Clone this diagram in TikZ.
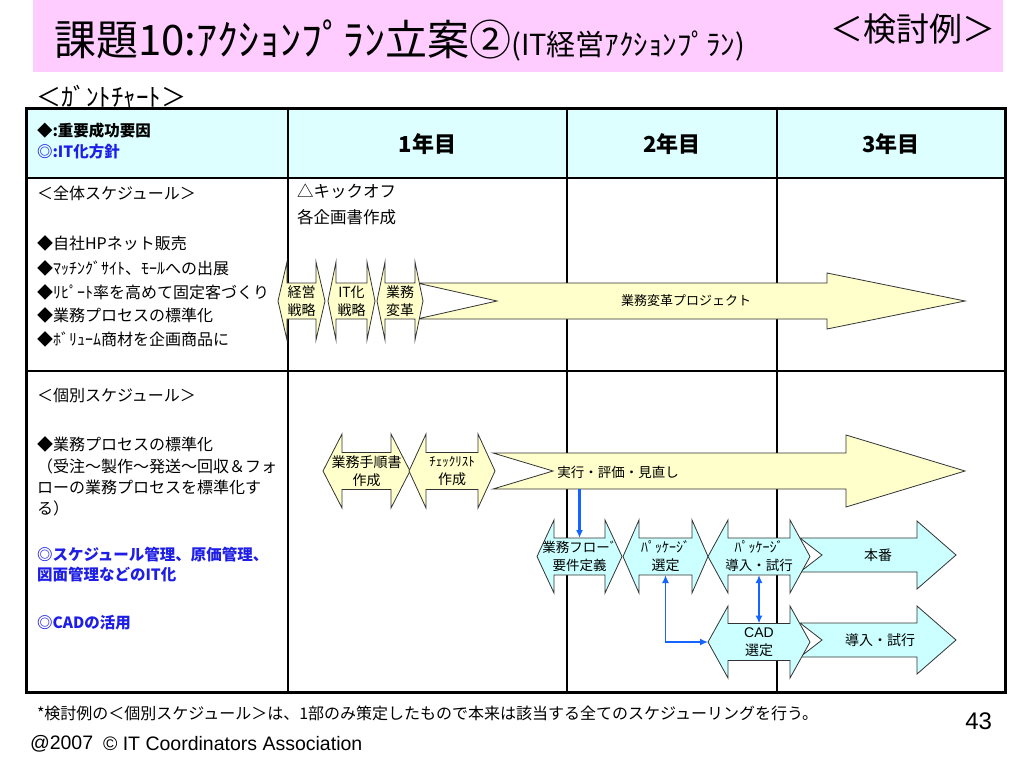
\documentclass[tikz,border=0pt]{standalone}
\usepackage{fontspec}
\usepackage{graphicx}
\setmainfont{Noto Sans CJK JP}
\newfontfamily\arialf{Liberation Sans}
\usetikzlibrary{arrows.meta}
\definecolor{pinkband}{HTML}{FFCCFF}
\definecolor{hdrcyan}{HTML}{DDFFFF}
\definecolor{arrcyan}{HTML}{CCFFFF}
\definecolor{arryel}{HTML}{FFFFCC}
\definecolor{txtblue}{HTML}{1E1EE6}
\definecolor{linkblue}{HTML}{1464FF}
\definecolor{edgegray}{HTML}{333333}
\newcommand\fsz[2]{\fontsize{#1}{#2}\selectfont}
% double (left-right) arrow: name, xleft, xright, cy, headlen, headhalf, bodyhalf, fill, text
\newcommand\dblarr[9]{%
  \filldraw[shp, fill=#8] (#2,#4) -- ({#2+#5},{#4-#6}) -- ({#2+#5},{#4-#7}) -- ({#3-#5},{#4-#7}) -- ({#3-#5},{#4-#6}) -- (#3,#4) -- ({#3-#5},{#4+#6}) -- ({#3-#5},{#4+#7}) -- ({#2+#5},{#4+#7}) -- ({#2+#5},{#4+#6}) -- cycle;
  \node[arrowlbl, minimum width={(#3-#2)*1pt}, minimum height={2*#7*1pt}] (#1) at ({(#2+#3)/2},#4) {#9};
}
% notched single arrow: name, xtail, xnotch, xbase, xtip, cy, bodyhalf, headhalf, fill
\newcommand\notcharr[9]{%
  \filldraw[shp, fill=#9] (#2,{#6-#7}) -- (#4,{#6-#7}) -- (#4,{#6-#8}) -- (#5,#6) -- (#4,{#6+#8}) -- (#4,{#6+#7}) -- (#2,{#6+#7}) -- (#3,#6) -- cycle;
  \node[minimum width={(#5-#2)*1pt}, minimum height={2*#7*1pt}] (#1) at ({(#2+#5)/2},#6) {};
}
\begin{document}
\begin{tikzpicture}[x=1pt,y=-1pt,
  every node/.style={inner sep=0pt, outer sep=0pt},
  lbl/.style={anchor=west, font=\fsz{16}{16}},
  bluelbl/.style={anchor=west, font=\fsz{15.5}{15.5}\bfseries, text=txtblue},
  hdr/.style={font=\fsz{22}{22}\bfseries},
  arrowlbl/.style={align=center, font=\fsz{14}{18}},
  shp/.style={draw=edgegray, line width=0.8pt},
  tipb/.tip={Latex[length=8pt,width=7pt]},
  link/.style={draw=linkblue, line width=1.6pt},
]
\fill[white] (0,0) rectangle (1024,768);
\useasboundingbox (0,0) rectangle (1024,768);
% title band
\fill[pinkband] (33,0) rectangle (1003,72);
\node[anchor=base west] (title) at (54,56) {\fsz{42}{42}課題10:ｱｸｼｮﾝﾌﾟﾗﾝ立案②\fsz{29}{29}(IT経営ｱｸｼｮﾝﾌﾟﾗﾝ)};
\node[anchor=east] (example) at (995,29) {\fsz{33}{33}＜検討例＞};
\node[anchor=west] (gantt) at (36,96) {\fsz{25}{25}＜ｶﾞﾝﾄﾁｬｰﾄ＞};
% table
\fill[hdrcyan] (26,108) rectangle (1005,178);
\draw[line width=1.3pt] (288,108) -- (288,692);
\draw[line width=1.3pt] (567,108) -- (567,692);
\draw[line width=1.3pt] (777,108) -- (777,692);
\draw[line width=2pt] (26,178) -- (1005,178);
\draw[line width=2pt] (26,371) -- (1005,371);
\draw[line width=3pt] (26,108) rectangle (1005,692);
% header row
\node[anchor=west, font=\fsz{15.5}{15.5}\bfseries] (key1) at (37,131) {◆:重要成功要因};
\node[anchor=west, font=\fsz{15.5}{15.5}\bfseries, text=txtblue] (key2) at (37,152) {◎:IT化方針};
\node[hdr] (y1) at (427.5,144) {1年目};
\node[hdr] (y2) at (672,144) {2年目};
\node[hdr] (y3) at (891,144) {3年目};
% row 2 left
\node[lbl] (all) at (37,193) {＜全体スケジュール＞};
\node[lbl] (k1) at (37,243) {◆自社HPネット販売};
\node[lbl] (k2) at (37,268) {◆ﾏｯﾁﾝｸﾞｻｲﾄ、ﾓｰﾙへの出展};
\node[lbl] (k3) at (37,292) {◆ﾘﾋﾟｰﾄ率を高めて固定客づくり};
\node[lbl] (k4) at (37,315) {◆業務プロセスの標準化};
\node[lbl] (k5) at (37,339) {◆ﾎﾞﾘｭｰﾑ商材を企画商品に};
\node[anchor=west, font=\fsz{16.5}{16.5}] (kick) at (297,191) {△キックオフ};
\node[anchor=west, font=\fsz{16.5}{16.5}] (plans) at (297,217) {各企画書作成};
% row 3 left
\node[lbl] (indiv) at (37,395) {＜個別スケジュール＞};
\node[lbl] (s1) at (37,444) {◆業務プロセスの標準化};
\node[lbl] (s2) at (37,466) {（受注～製作～発送～回収＆フォ};
\node[lbl] (s3) at (37,487) {ローの業務プロセスを標準化す};
\node[lbl] (s4) at (37,508) {る）};
\node[bluelbl] (b1) at (37,555) {◎スケジュール管理、原価管理、};
\node[bluelbl] (b2) at (37,575) {図面管理などのIT化};
\node[bluelbl] (b3) at (37,623) {◎CADの活用};
% row 2 arrows
\notcharr{proj}{417}{497}{827}{965}{301}{18}{28}{arryel}
\node[font=\fsz{13}{13}] (projtext) at (686,301) {業務変革プロジェクト};
\dblarr{strat}{278}{325}{301}{9}{39}{18}{arryel}{経営\\戦略}
\dblarr{itstrat}{328}{375}{301}{8}{39}{18}{arryel}{IT化\\戦略}
\dblarr{reform}{377}{423}{301}{8}{39}{18}{arryel}{業務\\変革}
% row 3 arrows
\notcharr{exec}{493}{553}{846}{965}{471}{18}{36}{arryel}
\node[font=\fsz{13.5}{13.5}] (exectext) at (618,472) {実行・評価・見直し};
\dblarr{manual}{323}{410}{471}{19}{37}{18.5}{arryel}{業務手順書\\作成}
\dblarr{check}{409}{495}{471}{17}{37}{18.5}{arryel}{{\fsz{13}{18}ﾁｪｯｸﾘｽﾄ}\\作成}
\notcharr{prod}{800}{822}{917}{956}{555}{17}{34}{arrcyan}
\node[font=\fsz{14}{14}] (prodtext) at (878,555) {本番};
\notcharr{cadrun}{800}{822}{917}{956}{640}{17}{34}{arrcyan}
\node[font=\fsz{14}{14}] (cadruntext) at (880,640) {導入・試行};
\dblarr{flow}{537}{622}{556.5}{17}{36.5}{18.5}{arrcyan}{{\fsz{13.5}{18}業務フローﾞ}\\{\fsz{13.5}{18}要件定義}}
\dblarr{pkgsel}{623}{708}{556.5}{16}{36.5}{18.5}{arrcyan}{ﾊﾟｯｹｰｼﾞ\\選定}
\dblarr{pkgimp}{708}{810}{556.5}{20}{36.5}{18.5}{arrcyan}{ﾊﾟｯｹｰｼﾞ\\{\fsz{13.5}{18}導入・試行}}
\dblarr{cad}{708}{810}{642}{20}{36}{18.5}{arrcyan}{{\arialf CAD}\\選定}
% blue links
\draw[link, line width=2.6pt, -tipb] (flow.north |- exec.south) -- (flow.north);
\draw[link, tipb-tipb] (pkgsel.south) |- (cad.west);
\draw[link, tipb-tipb] (pkgimp.south) -- (cad.north);
% footer
\node[anchor=west, font=\fsz{16}{16}] (note) at (37,713) {*検討例の＜個別スケジュール＞は、1部のみ策定したもので本来は該当する全てのスケジューリングを行う。};
\node[anchor=east, font=\arialf\fsz{24}{24}] (page) at (992,721) {43};
\node[anchor=west, font=\arialf\fsz{19.5}{19.5}] (copy1) at (30,744) {@2007};
\node[anchor=west, font=\arialf\fsz{19.5}{19.5}] (copy2) at (103,744) {© IT Coordinators Association};
\end{tikzpicture}
\end{document}
